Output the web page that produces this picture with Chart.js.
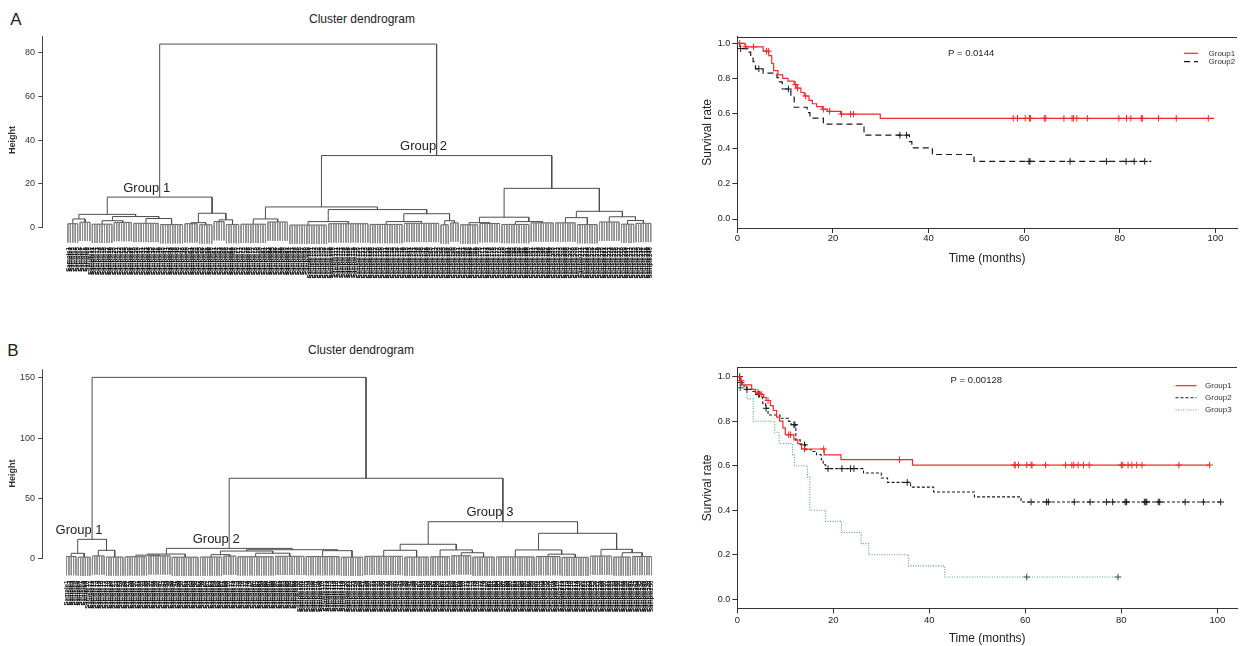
<!DOCTYPE html>
<html>
<head>
<meta charset="utf-8">
<script src="https://cdn.jsdelivr.net/npm/chart.js@4.4.1/dist/chart.umd.min.js"></script>
<style>
  body { margin: 0; width: 1242px; height: 646px; overflow: hidden; position: relative; background: #fff;
         font-family: 'Liberation Sans', Arial, Helvetica, sans-serif; color: #222; }
  canvas { position: absolute; }
  .lbl { position: absolute; transform: translate(-50%, -50%); white-space: nowrap; }
</style>
</head>
<body>
<div class="lbl" style="left:16px;top:20px;font-size:17px">A</div>
<div class="lbl" style="left:13px;top:351px;font-size:17px">B</div>
<div class="lbl" style="left:362px;top:19px;font-size:12px">Cluster dendrogram</div>
<div class="lbl" style="left:361px;top:350px;font-size:12px">Cluster dendrogram</div>

<canvas id="dendA" width="670" height="300" style="left:0;top:0"></canvas>
<canvas id="dendB" width="670" height="316" style="left:0;top:330px"></canvas>
<canvas id="kmA" width="552" height="300" style="left:690px;top:0"></canvas>
<canvas id="kmB" width="552" height="316" style="left:690px;top:330px"></canvas>

<script>
// --- dendrogram A (hclust style merge table; negative = block of leaves, positive = earlier merge)
const blockSizeA   = [5, 5, 9, 8, 11, 10, 6, 6, 5, 6, 11, 9, 16, 17, 14, 15, 4, 4, 8, 9, 12, 10, 9, 9, 9, 6, 7];
const blockHeightA = [1.8, 2.5, 1.6, 2.4, 2.0, 1.4, 1.8, 1.3, 2.8, 1.5, 1.6, 2.6, 1.2, 1.8, 1.5, 2.0, 1.3, 2.2, 1.3, 1.9, 1.5, 2.2, 2.2, 1.4, 2.6, 1.6, 2.0];
const mergeLeftA   = [-1, -3, -5, 2, 1, -7, -9, 6, 5, -11, -13, -15, -17, 12, 11, 10, -19, -21, 17, -23, -26, -25, 20, 19, 16, 9];
const mergeRightA  = [-2, -4, -6, 3, 4, -8, -10, 7, 8, -12, -14, -16, -18, 13, 14, 15, -20, -22, 18, -24, -27, 21, 22, 23, 24, 25];
const mergeHeightA = [4.0, 3.2, 4.2, 5.1, 6.1, 2.3, 3.6, 6.6, 14, 4.0, 2.8, 2.8, 3.2, 6.4, 8.3, 9.5, 2.3, 2.8, 4.8, 4.6, 3.3, 5.0, 7.5, 18, 33, 84];
const heightTicksA = [0, 20, 40, 60, 80];
const groupNodeA = [9, 25];
const groupNameA = ['Group 1', 'Group 2'];

// --- dendrogram B
const blockSizeB   = [5, 6, 6, 8, 10, 10, 12, 10, 6, 16, 13, 15, 10, 17, 11, 9, 9, 10, 17, 11, 12, 10, 8, 9];
const blockHeightB = [2.0, 1.5, 2.5, 1.6, 1.8, 2.6, 1.5, 1.6, 2.4, 1.8, 2.2, 2.0, 1.5, 2.2, 1.6, 1.8, 2.6, 1.6, 1.7, 2.0, 1.4, 2.4, 1.6, 2.1];
const mergeLeftB   = [-1, -3, 1, -5, 4, -8, -10, 6, -12, 8, 5, -14, -17, -16, 12, -20, -19, -23, -22, 17, 15, 11, 3];
const mergeRightB  = [-2, -4, 2, -6, -7, -9, -11, 7, -13, 9, 10, -15, -18, 13, 14, -21, 16, -24, 18, 19, 20, 21, 22];
const mergeHeightB = [4.7, 7.2, 16.3, 3.2, 4.1, 3.6, 4.8, 6.6, 6.9, 7.7, 8.8, 7.2, 5.2, 7.5, 12.2, 4.0, 7.5, 5.2, 8.0, 21.3, 30.9, 66.9, 150.5];
const heightTicksB = [0, 50, 100, 150];
const groupNodeB = [3, 11, 21];
const groupNameB = ['Group 1', 'Group 2', 'Group 3'];

// --- survival A (step times in months, survival after the step, censor times)
const time1A = [0, 1.6, 5.4, 6.6, 7.2, 7.6, 8.5, 9.5, 10.6, 11.9, 12.3, 13.3, 14, 15, 15.7, 16.6, 17.8, 18.8, 21.6, 29.9, 99.7];
const surv1A = [1, 0.98, 0.955, 0.93, 0.885, 0.845, 0.82, 0.8, 0.785, 0.765, 0.745, 0.72, 0.7, 0.675, 0.656, 0.64, 0.625, 0.613, 0.597, 0.573, 0.573];
const cens1A = [0.5, 1.8, 3.4, 6.1, 6.5, 12.2, 12.6, 14.3, 18.0, 19.3, 21.8, 23.7, 24.3, 57.7, 58.6, 60.2, 61.1, 61.3, 64.2, 64.5,
                68.3, 70.0, 70.3, 71.0, 73.2, 79.8, 81.4, 82.3, 84.5, 84.7, 88.1, 91.8, 98.5];
const time2A = [0, 0.5, 2.2, 2.8, 3.3, 3.8, 5.4, 8.3, 8.8, 9.4, 11.2, 11.9, 14.6, 15.2, 18.0, 26.5, 36.0, 36.5, 40.8, 49.5, 86.6];
const surv2A = [1, 0.97, 0.95, 0.925, 0.895, 0.855, 0.83, 0.805, 0.78, 0.74, 0.7, 0.636, 0.606, 0.574, 0.54, 0.477, 0.44, 0.405, 0.367, 0.328, 0.328];
const cens2A = [0.7, 4.5, 10.7, 34.0, 35.4, 61.0, 61.2, 69.6, 77.2, 81.3, 83.0, 85.2];

// --- survival B
const time1B = [0, 0.6, 1.0, 3.0, 3.8, 4.6, 5.5, 6.0, 6.9, 7.5, 8.2, 8.8, 9.5, 10.0, 11.8, 12.6, 13.4, 18.1, 21.6, 36.5, 98.5];
const surv1B = [1, 0.982, 0.963, 0.943, 0.93, 0.92, 0.907, 0.893, 0.87, 0.848, 0.818, 0.8, 0.77, 0.739, 0.716, 0.699, 0.675, 0.649, 0.627, 0.603, 0.603];
const cens1B = [0.8, 4.3, 5.0, 6.4, 10.7, 11.1, 14.0, 18.0, 33.8, 57.7, 57.9, 58.6, 60.3, 61.2, 61.4, 64.2, 68.4, 69.7, 70.1, 71.0,
                72.1, 73.3, 80.0, 80.3, 81.4, 82.2, 83.2, 84.3, 92.0, 98.4];
const time2B = [0, 0.6, 1.0, 2.0, 3.1, 3.8, 5.3, 5.9, 6.4, 8.9, 10.7, 11.2, 12.2, 13.1, 14.2, 15.5, 16.5, 17.5, 17.9, 18.4, 26.3, 30.0,
                31.3, 36.1, 40.9, 49.4, 59.1, 100.7];
const surv2B = [1, 0.973, 0.958, 0.943, 0.933, 0.921, 0.88, 0.858, 0.828, 0.813, 0.799, 0.784, 0.716, 0.694, 0.672, 0.664, 0.649, 0.627,
                0.604, 0.587, 0.567, 0.545, 0.525, 0.504, 0.482, 0.46, 0.437, 0.437];
const cens2B = [0.5, 0.8, 2.0, 4.4, 4.6, 6.0, 11.8, 12.0, 14.0, 18.9, 21.8, 23.6, 24.3, 35.4, 61.2, 64.4, 64.8, 70.2, 73.5, 76.9,
                78.2, 80.8, 81.1, 84.8, 85.1, 85.3, 87.7, 88.0, 93.3, 97.1, 100.7];
const time3B = [0, 0.5, 2.0, 3.3, 7.8, 8.7, 11.5, 11.9, 14.6, 15.1, 18.4, 21.7, 25.8, 27.4, 35.7, 43.2, 79.3];
const surv3B = [1, 0.95, 0.9, 0.8, 0.75, 0.7, 0.65, 0.6, 0.55, 0.4, 0.35, 0.3, 0.25, 0.2, 0.15, 0.1, 0.1];
const cens3B = [0.6, 60.3, 79.3];

const timeTicks = [0, 20, 40, 60, 80, 100];
const survTicks = [0, 0.2, 0.4, 0.6, 0.8, 1.0];

const FONT = "'Liberation Sans', Arial, Helvetica, sans-serif";
Chart.defaults.font.family = FONT;
Chart.defaults.color = '#222';

// leaf labels are unreadable in the source, use sample ids
const leafLabels = n => Array.from({length: n}, (_, i) => 'Sample' + (i + 1));

// lay out the tree like plot.hclust: leaves in order, node midway between children
function layoutTree(blockSize, blockHeight, mergeLeft, mergeRight, mergeHeight, hang) {
  const tree = [], leaves = [], blockX = [], nodeX = [];
  let pos = 0;
  blockSize.forEach((n, b) => {
    const h = blockHeight[b], first = pos, last = pos + n - 1;
    tree.push({x: first, y: h}, {x: last, y: h}, {x: last, y: null});
    for (let i = first; i <= last; i++) leaves.push({x: i, y: h}, {x: i, y: h - hang}, {x: i, y: null});
    blockX.push((first + last) / 2);
    pos += n;
  });
  const ref = k => k < 0 ? {x: blockX[-k - 1], y: blockHeight[-k - 1]} : {x: nodeX[k - 1], y: mergeHeight[k - 1]};
  mergeLeft.forEach((l, m) => {
    const a = ref(l), b = ref(mergeRight[m]), h = mergeHeight[m];
    tree.push({x: a.x, y: a.y}, {x: a.x, y: h}, {x: b.x, y: h}, {x: b.x, y: b.y}, {x: b.x, y: null});
    nodeX.push((a.x + b.x) / 2);
  });
  return {tree, leaves, nodeX, count: pos};
}

function dendroChart(id, d) {
  const t = layoutTree(d.blockSize, d.blockHeight, d.mergeLeft, d.mergeRight, d.mergeHeight, d.hang);
  const labels = leafLabels(t.count);
  const extras = {
    id: 'dendroExtras',
    afterDraw(chart) {
      const {ctx, chartArea, scales: {x, y}} = chart;
      ctx.save();
      // R style axis: line only from 0 up
      ctx.strokeStyle = '#444';
      ctx.lineWidth = 1;
      ctx.beginPath();
      const ax = Math.round(chartArea.left) - 0.5;
      ctx.moveTo(ax, y.getPixelForValue(0));
      ctx.lineTo(ax, chartArea.top);
      ctx.stroke();
      ctx.fillStyle = '#222';
      ctx.font = '13px ' + FONT;
      ctx.textAlign = 'center';
      ctx.textBaseline = 'middle';
      d.groupNode.forEach((m, i) => {
        const px = x.getPixelForValue(t.nodeX[m - 1]);
        const py = y.getPixelForValue(d.mergeHeight[m - 1]);
        ctx.fillText(d.groupName[i], px - 13, py - 9);
      });
      ctx.restore();
    }
  };
  new Chart(document.getElementById(id), {
    type: 'line',
    data: {
      datasets: [
        {data: t.leaves, borderColor: '#8a8a8a', borderWidth: 1, pointRadius: 0, spanGaps: false, fill: false},
        {data: t.tree, borderColor: '#4d4d4d', borderWidth: 1, pointRadius: 0, spanGaps: false, fill: false}
      ]
    },
    options: {
      responsive: false, animation: false, devicePixelRatio: 1,
      layout: {padding: {top: d.padTop, right: 10, bottom: 0, left: 0}},
      plugins: {legend: {display: false}, tooltip: {enabled: false}},
      elements: {line: {tension: 0}},
      scales: {
        x: {
          type: 'linear', min: d.xMin, max: d.xMax,
          afterFit: s => { s.height = d.xAxisH; },
          afterBuildTicks: s => { s.ticks = labels.map((_, i) => ({value: i})); },
          grid: {display: false, drawTicks: false, tickLength: 0},
          border: {display: false},
          ticks: {autoSkip: false, minRotation: 90, maxRotation: 90, padding: 3, color: '#000',
                  font: {size: 6, weight: 'bold'}, callback: (v, i) => labels[i]}
        },
        y: {
          type: 'linear', min: d.yMin, max: d.yMax,
          afterFit: s => { s.width = 43.3; },
          afterBuildTicks: s => { s.ticks = d.heightTicks.map(v => ({value: v})); },
          grid: {display: true, drawOnChartArea: false, drawTicks: true, tickLength: 5, color: '#444'},
          border: {display: false},
          ticks: {padding: 3.3, color: '#333', font: {size: 9}},
          title: {display: true, text: 'Height', font: {size: 9, weight: 'bold'}, color: '#333', padding: {top: 7.2, bottom: 0}}
        }
      }
    },
    plugins: [extras]
  });
}

dendroChart('dendA', {
  blockSize: blockSizeA, blockHeight: blockHeightA, mergeLeft: mergeLeftA, mergeRight: mergeRightA,
  mergeHeight: mergeHeightA, heightTicks: heightTicksA, groupNode: groupNodeA, groupName: groupNameA,
  hang: 8.6, yMin: -7.5, yMax: 87.7, xMin: -10.1, xMax: 242.8, padTop: 36, xAxisH: 55.9
});
dendroChart('dendB', {
  blockSize: blockSizeB, blockHeight: blockHeightB, mergeLeft: mergeLeftB, mergeRight: mergeRightB,
  mergeHeight: mergeHeightB, heightTicks: heightTicksB, groupNode: groupNodeB, groupName: groupNameB,
  hang: 15.5, yMin: -15.5, yMax: 157.2, xMin: -9.9, xMax: 252.6, padTop: 39.3, xAxisH: 68.3
});

// survival value in force at time t
function survAt(times, surv, t) {
  let s = surv[0];
  for (let i = 0; i < times.length; i++) if (times[i] <= t) s = surv[i];
  return s;
}

function kmChart(id, k) {
  const datasets = [];
  k.groups.forEach(g => {
    datasets.push({
      data: g.times.map((t, i) => ({x: t, y: g.surv[i]})),
      borderColor: g.color, borderWidth: g.width, borderDash: g.dash, stepped: true, pointRadius: 0, fill: false
    });
    datasets.push({
      data: g.cens.map(t => ({x: t, y: survAt(g.times, g.surv, t)})),
      showLine: false, pointStyle: 'cross', pointRadius: 3.3, pointBorderWidth: 1,
      pointBorderColor: g.mark, borderColor: g.mark, backgroundColor: g.mark
    });
  });
  const extras = {
    id: 'kmExtras',
    afterDraw(chart) {
      const {ctx, chartArea} = chart;
      ctx.save();
      ctx.strokeStyle = '#333';
      ctx.lineWidth = 1;
      ctx.beginPath();
      ctx.moveTo(chartArea.left, Math.round(chartArea.top) + 0.5);
      ctx.lineTo(chartArea.right, Math.round(chartArea.top) + 0.5);
      ctx.stroke();
      ctx.fillStyle = '#222';
      ctx.textBaseline = 'middle';
      ctx.textAlign = 'left';
      ctx.font = '9.5px ' + FONT;
      ctx.fillText(k.pText, k.pX, k.pY);
      ctx.font = '8px ' + FONT;
      k.groups.forEach((g, i) => {
        const yy = k.legY[i];
        ctx.strokeStyle = g.color;
        ctx.lineWidth = g.width;
        ctx.setLineDash(g.dash);
        ctx.beginPath();
        ctx.moveTo(k.legX[0], yy);
        ctx.lineTo(k.legX[1], yy);
        ctx.stroke();
        ctx.setLineDash([]);
        ctx.fillStyle = '#333';
        ctx.fillText(g.name, k.legX[2], yy);
      });
      ctx.restore();
    }
  };
  new Chart(document.getElementById(id), {
    type: 'line',
    data: {datasets},
    options: {
      responsive: false, animation: false, devicePixelRatio: 1,
      layout: {padding: {top: k.padTop, right: 0, bottom: k.padBottom, left: 0}},
      plugins: {legend: {display: false}, tooltip: {enabled: false}},
      elements: {line: {tension: 0}},
      scales: {
        x: {
          type: 'linear', min: 0, max: k.xMax,
          afterFit: s => { s.height = k.xAxisH; },
          afterBuildTicks: s => { s.ticks = timeTicks.map(v => ({value: v})); },
          grid: {display: true, drawOnChartArea: false, drawTicks: true, tickLength: 5, color: '#333'},
          border: {display: true, color: '#333', width: 1},
          ticks: {autoSkip: false, maxRotation: 0, padding: k.xTickPad, color: '#222', font: {size: 9.5}},
          title: {display: true, text: 'Time (months)', font: {size: 12}, color: '#222', padding: {top: 0, bottom: k.xTitlePad}}
        },
        y: {
          type: 'linear', min: k.yMin, max: k.yMax,
          afterFit: s => { s.width = 47.3; },
          afterBuildTicks: s => { s.ticks = survTicks.map(v => ({value: v})); },
          grid: {display: true, drawOnChartArea: false, drawTicks: true, tickLength: 5, color: '#333'},
          border: {display: true, color: '#333', width: 1},
          ticks: {padding: 2, color: '#222', font: {size: 9}, callback: v => v.toFixed(1)},
          title: {display: true, text: 'Survival rate', font: {size: 12}, color: '#222', padding: {top: 10.3, bottom: 0}}
        }
      }
    },
    plugins: [extras]
  });
}

kmChart('kmA', {
  groups: [
    {name: 'Group1', times: time1A, surv: surv1A, cens: cens1A, color: '#f42a2a', mark: '#f42a2a', width: 1.2, dash: []},
    {name: 'Group2', times: time2A, surv: surv2A, cens: cens2A, color: '#1a1a1a', mark: '#1a1a1a', width: 1.2, dash: [6, 4]}
  ],
  pText: 'P = 0.0144', pX: 258, pY: 53.3,
  legX: [494, 508, 518.5], legY: [53.3, 61.7],
  padTop: 36.7, padBottom: 27, xAxisH: 45, xTickPad: 0, xTitlePad: 7.5,
  xMax: 104.5, yMin: -0.0512, yMax: 1.0376
});
kmChart('kmB', {
  groups: [
    {name: 'Group1', times: time1B, surv: surv1B, cens: cens1B, color: '#f42a2a', mark: '#f42a2a', width: 1.2, dash: []},
    {name: 'Group2', times: time2B, surv: surv2B, cens: cens2B, color: '#1a1a1a', mark: '#1a1a1a', width: 1.1, dash: [3, 2]},
    {name: 'Group3', times: time3B, surv: surv3B, cens: cens3B, color: '#5aa07e', mark: '#244d36', width: 1.1, dash: [1, 1.5]}
  ],
  pText: 'P = 0.00128', pX: 260.5, pY: 50.7,
  legX: [485.5, 506.5, 515], legY: [55.7, 67.7, 80],
  padTop: 37.3, padBottom: 0, xAxisH: 37.7, xTickPad: 1.2, xTitlePad: 0,
  xMax: 104.1, yMin: -0.0404, yMax: 1.042
});
</script>
</body>
</html>
